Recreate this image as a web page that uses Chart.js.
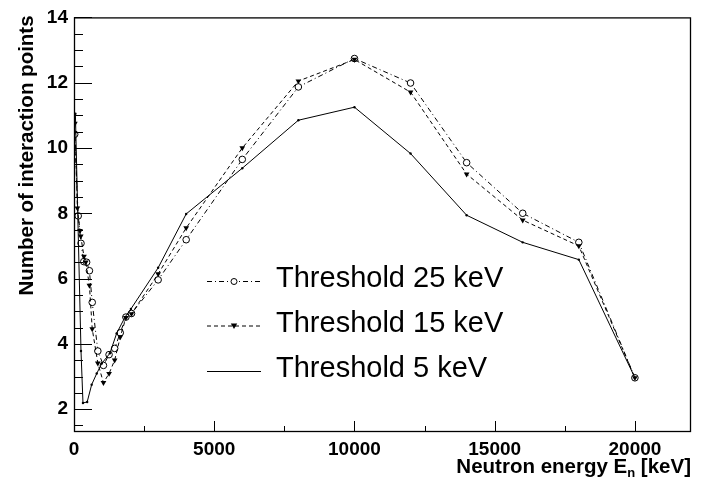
<!DOCTYPE html>
<html>
<head>
<meta charset="utf-8">
<script src="https://cdn.jsdelivr.net/npm/chart.js@4.4.1/dist/chart.umd.min.js"></script>
<style>
html,body{margin:0;padding:0;background:#fff;}
</style>
</head>
<body>
<canvas id="chart" width="707" height="479"></canvas>
<script>
// values: neutron energy (keV) vs number of interaction points
const e25 = [25,150,250,350,450,550,650,850,1050,1250,1450,1650,1850,2050,3000,4000,6000,8000,10000,12000,14000,16000,18000,20000];
const n25 = [10.42,7.92,7.08,6.52,6.50,6.24,5.27,3.78,3.34,3.67,3.86,4.34,4.82,4.93,5.96,7.19,9.65,11.87,12.74,11.99,9.55,8.00,7.11,2.96];

const e15 = [30,120,215,240,355,420,550,650,850,1050,1250,1450,1650,1850,2050,3000,4000,6000,8000,10000,12000,14000,16000,18000,20000];
const n15 = [10.75,8.16,7.47,7.30,6.68,6.50,5.79,4.46,3.41,2.81,3.09,3.50,4.21,4.80,4.92,6.14,7.55,10.0,12.05,12.71,11.71,9.20,7.79,7.00,2.96];

const e5 = [50,250,320,470,630,810,990,1280,1520,1820,2030,3000,4000,6000,8000,10000,12000,14000,16000,18000,20000];
const n5 = [11.05,3.78,2.19,2.22,2.75,3.09,3.40,3.71,4.32,4.82,5.07,6.33,7.98,9.38,10.85,11.25,9.83,7.94,7.11,6.58,2.96];

const seriesNames = ["Threshold 25 keV","Threshold 15 keV","Threshold 5 keV"];
const xTicks = [0,5000,10000,15000,20000];
const yTicks = [2,4,6,8,10,12,14];
const xMinor = [2500,7500,12500,17500];
const yMinorStep = 0.5;

function pts(xs, ys){ return xs.map((x,i)=>({x:x, y:ys[i]})); }

const dash25 = [5,3,1,3];
const dash15 = [4,3];
const FONT = '"Liberation Sans", Arial, sans-serif';

function drawMarker(ctx, kind, x, y){
    ctx.save();
    ctx.setLineDash([]);
    ctx.lineWidth = 1;
    ctx.strokeStyle = '#000';
    ctx.fillStyle = '#000';
    ctx.beginPath();
    if(kind==='circle'){
        ctx.fillStyle = '#fff';
        ctx.arc(x, y, 3, 0, Math.PI*2);
        ctx.fill(); ctx.stroke();
    } else if(kind==='tri'){
        ctx.moveTo(x-3.2, y-2.5); ctx.lineTo(x+3.2, y-2.5); ctx.lineTo(x, y+3);
        ctx.closePath(); ctx.fill();
    }
    ctx.restore();
}

const rootStyle = {
    id: 'rootStyle',
    afterDraw(chart){
        const ctx = chart.ctx, a = chart.chartArea;
        const xs = chart.scales.x, ys = chart.scales.y;
        ctx.save();
        // frame
        ctx.strokeStyle = '#000';
        ctx.lineWidth = 1.3;
        ctx.strokeRect(a.left+0.5, a.top+0.5, a.right-a.left-1, a.bottom-a.top-1);
        // y ticks, inward
        ctx.lineWidth = 1;
        ctx.beginPath();
        for(let v=2; v<=14.001; v+=yMinorStep){
            const py = Math.round(ys.getPixelForValue(v))+0.5;
            const len = (Math.abs(v/2-Math.round(v/2))<1e-6) ? 18 : 9;
            ctx.moveTo(a.left, py); ctx.lineTo(a.left+len, py);
        }
        let py15 = Math.round(ys.getPixelForValue(1.5))+0.5;
        ctx.moveTo(a.left, py15); ctx.lineTo(a.left+9, py15);
        // x ticks, inward
        xTicks.forEach(v=>{
            const px = Math.round(xs.getPixelForValue(v))+0.5;
            ctx.moveTo(px, a.bottom); ctx.lineTo(px, a.bottom-11);
        });
        xMinor.forEach(v=>{
            const px = Math.round(xs.getPixelForValue(v))+0.5;
            ctx.moveTo(px, a.bottom); ctx.lineTo(px, a.bottom-6);
        });
        ctx.stroke();

        // axis titles
        ctx.fillStyle = '#000';
        const big = 'bold 20.5px ' + FONT, small = 'bold 13px ' + FONT;
        ctx.font = big;
        const p1 = 'Neutron energy E', sub = 'n', p2 = ' [keV]';
        const w1 = ctx.measureText(p1).width;
        const w3 = ctx.measureText(p2).width;
        ctx.font = small;
        const w2 = ctx.measureText(sub).width;
        let x0 = a.right - (w1+w2+w3);
        const by = 473;
        ctx.textBaseline = 'alphabetic';
        ctx.textAlign = 'left';
        ctx.font = big;
        ctx.fillText(p1, x0, by);
        ctx.font = small;
        ctx.fillText(sub, x0+w1, by+4);
        ctx.font = big;
        ctx.fillText(p2, x0+w1+w2, by);
        // y title, rotated, aligned to top of frame
        ctx.save();
        ctx.translate(33, a.top - 2);
        ctx.rotate(-Math.PI/2);
        ctx.textAlign = 'right';
        ctx.fillText('Number of interaction points', 0, 0);
        ctx.restore();

        // legend
        const rows = [
            {y:281.5, dash:dash25, mk:'circle', base:287},
            {y:326, dash:dash15, mk:'tri', base:332},
            {y:371.5, dash:[], mk:null, base:377}
        ];
        ctx.font = '29px ' + FONT;
        rows.forEach((r,i)=>{
            ctx.save();
            ctx.lineWidth = 1;
            ctx.setLineDash(r.dash);
            ctx.beginPath();
            ctx.moveTo(207, r.y); ctx.lineTo(261, r.y);
            ctx.stroke();
            ctx.restore();
            if(r.mk) drawMarker(ctx, r.mk, 234, r.y);
            ctx.fillText(seriesNames[i], 276, r.base);
        });
        ctx.restore();
    }
};

const ctx = document.getElementById('chart').getContext('2d');
const chart = new Chart(ctx, {
    type: 'scatter',
    data: {
        datasets: [
            {label: seriesNames[0], data: pts(e25,n25), showLine:true, borderColor:'#000', borderWidth:1,
             borderDash: dash25, pointStyle:'circle', pointRadius:3.3, pointBackgroundColor:'#fff',
             pointBorderColor:'#000', pointBorderWidth:1, order:3},
            {label: seriesNames[1], data: pts(e15,n15), showLine:true, borderColor:'#000', borderWidth:1,
             borderDash: dash15, pointStyle:'triangle', pointRotation:180, pointRadius:3.3,
             pointBackgroundColor:'#000', pointBorderColor:'#000', pointBorderWidth:0, order:2},
            {label: seriesNames[2], data: pts(e5,n5), showLine:true, borderColor:'#000', borderWidth:1,
             pointStyle:'circle', pointRadius:1.2, pointBackgroundColor:'#000', pointBorderWidth:0, order:1}
        ]
    },
    options: {
        responsive: false,
        animation: false,
        devicePixelRatio: 1,
        layout: {padding: {left:0, right:16, top:16, bottom:0}},
        plugins: {legend:{display:false}, tooltip:{enabled:false}},
        scales: {
            x: {
                type:'linear', min:0, max:22000,
                grid:{display:false, drawTicks:false},
                border:{display:false},
                afterBuildTicks: s=>{ s.ticks = xTicks.map(v=>({value:v})); },
                afterFit: s=>{ s.height = 47; },
                ticks:{color:'#000', padding:6, maxRotation:0, autoSkip:false,
                       font:{family:FONT, size:19, weight:'bold'},
                       callback: v=>String(v)}
            },
            y: {
                type:'linear', min:1.3, max:14,
                grid:{display:false, drawTicks:false},
                border:{display:false},
                afterBuildTicks: s=>{ s.ticks = yTicks.map(v=>({value:v})); },
                afterFit: s=>{ s.width = 74; },
                ticks:{color:'#000', padding:6,
                       font:{family:FONT, size:19, weight:'bold'},
                       callback: v=>String(v)}
            }
        }
    },
    plugins: [rootStyle]
});
</script>
</body>
</html>
